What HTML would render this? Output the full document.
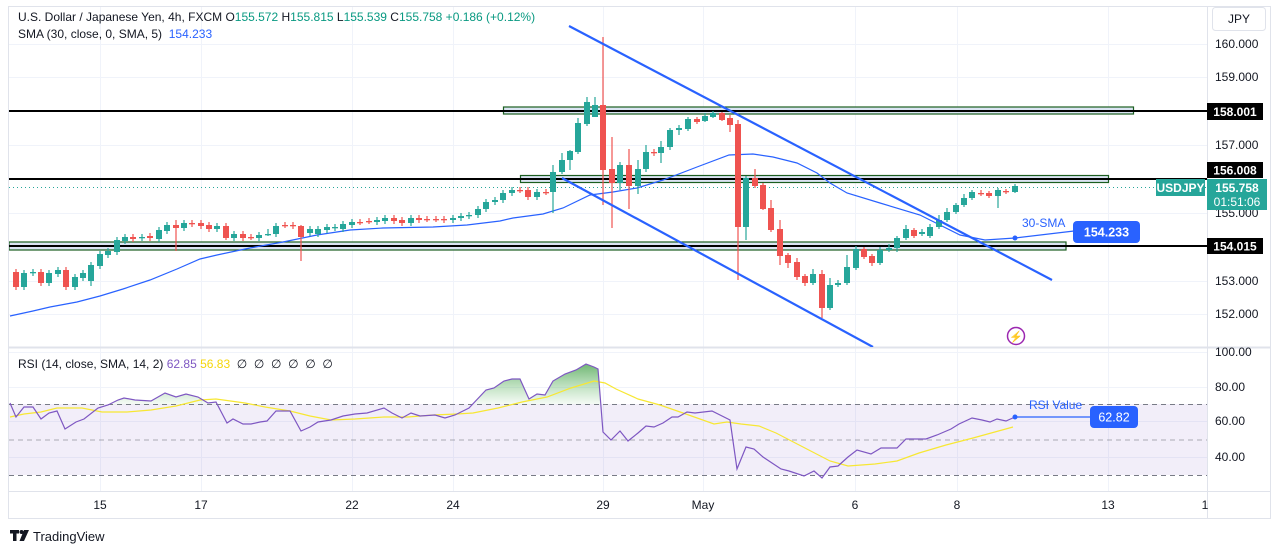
<!DOCTYPE html>
<html><head><meta charset="utf-8"><style>
html,body{margin:0;padding:0;background:#fff;width:1281px;height:554px;overflow:hidden}
svg{display:block;font-family:"Liberation Sans",sans-serif}
text{white-space:pre}
</style></head><body>
<svg id="s" width="1281" height="554" viewBox="0 0 1281 554" xmlns="http://www.w3.org/2000/svg">
<defs>
<linearGradient id="gf" gradientUnits="userSpaceOnUse" x1="0" y1="362" x2="0" y2="405"><stop offset="0" stop-color="#43a047" stop-opacity="0.8"/><stop offset="1" stop-color="#66bb6a" stop-opacity="0.05"/></linearGradient>
<clipPath id="above"><rect x="0" y="340" width="1207" height="64.5"/></clipPath>
<clipPath id="main"><rect x="9" y="7" width="1198" height="340"/></clipPath>
</defs>
<rect x="0" y="0" width="1281" height="554" fill="#fff"/>
<rect x="8.5" y="6.5" width="1262" height="512" fill="none" stroke="#e0e3eb"/>
<g id="grid" stroke="#f0f3fa" stroke-width="1"></g>
<rect x="9" y="404" width="1198" height="71" fill="#7e57c2" fill-opacity="0.1"/>
<g stroke="#787b86" stroke-dasharray="5,4" stroke-width="1">
<line x1="9" y1="404.5" x2="1207" y2="404.5"/><line x1="9" y1="440" x2="1207" y2="440" stroke-opacity="0.6"/><line x1="9" y1="475.5" x2="1207" y2="475.5"/>
</g>
<line x1="9" y1="347.5" x2="1270" y2="347.5" stroke="#e0e3eb" stroke-width="2"/>
<line x1="1207.5" y1="7" x2="1207.5" y2="518" stroke="#e0e3eb"/>
<line x1="9" y1="491.5" x2="1270" y2="491.5" stroke="#e0e3eb"/>
<g clip-path="url(#main)">
<rect x="503.5" y="107" width="630" height="7" fill="#dbe4f3" stroke="#1b5e20" stroke-width="1.2"/>
<rect x="520.5" y="175.5" width="588" height="7" fill="#dbe4f3" stroke="#1b5e20" stroke-width="1.2"/>
<rect x="9" y="242" width="1057" height="8" fill="#dbe4f3" stroke="#1b5e20" stroke-width="1.2"/>
<g stroke="#000" stroke-width="2"><line x1="9" y1="111" x2="1207" y2="111"/><line x1="9" y1="179" x2="1207" y2="179"/><line x1="9" y1="246" x2="1207" y2="246"/></g>
<line x1="9" y1="187.5" x2="1207" y2="187.5" stroke="#26a69a" stroke-dasharray="1,3"/>
<polyline fill="none" stroke="#2962ff" stroke-width="1.2" points="10,316 33,311 50,307 77,302 100,296 123,289 150,280 177,269 200,259 217,255 250,248 283,242 317,235 350,230 383,228 433,227 467,225 500,221 513,218 543,214 563,208 590,195 613,192 637,188 663,180 697,167 729,155 753,154 773,157 797,163 817,173 830,183 847,193 880,203 920,215 960,235 985,240 1015,238"/>
<g id="candles"></g>
<line x1="569" y1="26" x2="1052" y2="280" stroke="#2962ff" stroke-width="2.2"/>
<line x1="562" y1="178" x2="873" y2="347" stroke="#2962ff" stroke-width="2.2"/>
</g>
<circle cx="1015" cy="238" r="2.5" fill="#2962ff"/>
<line x1="1015" y1="238" x2="1074" y2="231" stroke="#2962ff" stroke-width="1.2"/>
<text x="1022" y="227" font-size="12" fill="#2962ff">30-SMA</text>
<rect x="1073" y="221" width="67" height="22" rx="4" fill="#2962ff"/>
<text x="1106.5" y="236.5" font-size="12.5" fill="#fff" text-anchor="middle" font-weight="bold">154.233</text>
<circle cx="1016" cy="336" r="8.5" fill="none" stroke="#9c27b0" stroke-width="1.5"/>
<text x="1016" y="340.5" font-size="11" fill="#9c27b0" text-anchor="middle">⚡</text>
<polygon id="rsifill" clip-path="url(#above)" fill="url(#gf)"/>
<polyline id="rsiy" fill="none" stroke="#f7e733" stroke-width="1.2"/>
<polyline id="rsi" fill="none" stroke="#7e57c2" stroke-width="1.2"/>
<circle cx="1015" cy="417" r="2.5" fill="#2962ff"/>
<line x1="1015" y1="417" x2="1090" y2="417" stroke="#2962ff" stroke-width="1.2"/>
<text x="1029" y="409" font-size="12" fill="#2962ff">RSI Value</text>
<rect x="1090" y="406" width="48" height="22" rx="4" fill="#2962ff"/>
<text x="1114" y="421.5" font-size="12.5" fill="#fff" text-anchor="middle">62.82</text>
<text x="18" y="21" font-size="12" fill="#131722">U.S. Dollar / Japanese Yen, 4h, FXCM O<tspan fill="#089981">155.572</tspan> H<tspan fill="#089981">155.815</tspan> L<tspan fill="#089981">155.539</tspan> C<tspan fill="#089981">155.758 +0.186 (+0.12%)</tspan></text>
<text x="18" y="38" font-size="12" fill="#131722">SMA (30, close, 0, SMA, 5)  <tspan fill="#2962ff">154.233</tspan></text>
<text x="18" y="368" font-size="12" fill="#131722">RSI (14, close, SMA, 14, 2) <tspan fill="#7e57c2">62.85</tspan> <tspan fill="#f5d60a">56.83</tspan>  ∅  ∅  ∅  ∅  ∅  ∅</text>
<g font-size="12" fill="#131722">
<text x="1215" y="48">160.000</text><text x="1215" y="81">159.000</text><text x="1215" y="149">157.000</text><text x="1215" y="217">155.000</text><text x="1215" y="285">153.000</text><text x="1215" y="318">152.000</text>
<text x="1215" y="356">100.00</text><text x="1215" y="391">80.00</text><text x="1215" y="425">60.00</text><text x="1215" y="461">40.00</text>
</g>
<rect x="1212.5" y="7.5" width="53" height="23" rx="3" fill="#fff" stroke="#e0e3eb"/>
<text x="1239" y="23" font-size="12" fill="#131722" text-anchor="middle">JPY</text>
<rect x="1207" y="103" width="56" height="17" fill="#000"/><text x="1235" y="116" font-size="12" fill="#fff" text-anchor="middle" font-weight="bold">158.001</text>
<rect x="1207" y="162" width="56" height="16" fill="#000"/><text x="1235" y="174.5" font-size="12" fill="#fff" text-anchor="middle" font-weight="bold">156.008</text>
<rect x="1207" y="238" width="56" height="16" fill="#000"/><text x="1235" y="250.5" font-size="12" fill="#fff" text-anchor="middle" font-weight="bold">154.015</text>
<rect x="1156" y="179" width="49" height="17" fill="#26a69a"/><text x="1180.5" y="192" font-size="12" fill="#fff" text-anchor="middle" font-weight="bold">USDJPY</text>
<rect x="1207" y="179" width="60" height="31" fill="#26a69a"/>
<text x="1237" y="192" font-size="12" fill="#fff" text-anchor="middle" font-weight="bold">155.758</text>
<text x="1237" y="206" font-size="12" fill="#fff" text-anchor="middle">01:51:06</text>
<g font-size="12" fill="#131722" text-anchor="middle">
<text x="100" y="509">15</text><text x="201" y="509">17</text><text x="352" y="509">22</text><text x="453" y="509">24</text><text x="603" y="509">29</text><text x="703" y="509">May</text><text x="855" y="509">6</text><text x="957" y="509">8</text><text x="1108" y="509">13</text><text x="1205" y="509">1</text>
</g>
<g fill="#131722"><rect x="10" y="530" width="9" height="3.5"/><rect x="13" y="530" width="3.5" height="11"/><circle cx="21.5" cy="532" r="2"/><polygon points="24,530 29,530 24,541 19.5,541"/></g>
<text x="33" y="541" font-size="13" fill="#131722">TradingView</text>
</svg>
<script>
var NS="http://www.w3.org/2000/svg";
function el(t,a,p){var e=document.createElementNS(NS,t);for(var k in a)e.setAttribute(k,a[k]);p.appendChild(e);return e;}
var g=document.getElementById("grid");
[100,201,352,453,603,703,855,957,1108].forEach(function(x){el("line",{x1:x+.5,y1:7,x2:x+.5,y2:491},g);});
[44,77,145,213,281,314,352,387,421,457].forEach(function(y){el("line",{x1:9,y1:y+.5,x2:1207,y2:y+.5},g);});
var C=[[16,272,287],[24,287,273],[33,273,272],[41,272,283],[49,283,273],[58,274,270],[66,270,287],[75,287,277],[83,278,273],[91,281,265,262,286],[100,266,254],[108,255,251],[117,252,240],[125,241,237],[133,237,239],[142,238,237],[150,236,238],[159,239,230],[167,231,225],[176,225,228,220,251],[184,228,223],[192,223,224],[201,223,226],[209,225,229],[217,229,226],[226,226,238,223,240],[234,238,234],[243,234,238],[251,237,237],[259,238,235],[268,235,234,229,236],[276,234,226],[285,225,225],[293,225,226],[301,226,237,225,261],[310,233,229],[318,234,229],[327,230,227],[335,228,227],[343,229,224],[352,225,222],[360,222,222],[369,221,221],[377,222,220],[385,221,218],[394,218,221],[402,220,223],[411,223,218],[419,218,220],[427,219,219],[436,219,219],[444,219,220],[453,220,218],[461,218,216],[469,216,215],[478,215,209],[486,209,202],[495,202,200],[503,200,193],[512,193,190],[520,190,190],[528,190,197],[537,197,192],[546,192,192],[553,192,172,165,213],[562,172,160,153,174],[570,160,151,150,170],[578,152,123,118,154],[587,124,102,97,126],[595,117,105,97,117],[603,105,170,37,205],[612,169,183,137,228],[620,183,165,162,190],[629,165,186,149,209],[638,186,169,160,194],[646,169,152,145,172],[654,152,153,149,156],[661,153,147,141,163],[670,147,130,128,150],[679,130,128,125,135],[688,129,119,117,131],[697,119,122,117,124],[705,121,116,113,122],[713,117,113,111,118],[722,113,120,112,121],[730,118,125,115,132],[738,124,227,120,280],[746,227,178,176,240],[755,178,186,169,188],[763,185,209,183,210],[771,208,230,200,232],[780,229,256,220,265],[788,255,263,253,268],[797,262,277,258,280],[805,276,283,274,286],[813,283,274,269,285],[822,274,308,270,318],[830,308,285,278,310],[838,285,283,280,287],[847,283,267,255,285],[856,268,249,246,270],[864,249,257,247,259],[872,256,263,254,266],[880,263,250,247,265],[889,250,248,244,252],[897,248,238,236,252],[906,238,229,225,240],[914,230,236,228,238],[922,234,232,229,236],[930,236,227,224,238],[939,227,220,215,229],[947,220,212,208,222],[956,212,205,203,214],[964,205,198,194,207],[972,198,192,190,200],[981,193,193,190,196],[989,193,196,191,198],[998,196,190,188,208],[1006,191,191,189,194],[1015,192,186,184,193]];
var cg=document.getElementById("candles");
C.forEach(function(c){var x=c[0],o=c[1],cl=c[2];var up=cl<o;var col=up?"#26a69a":"#ef5350";
var t=Math.min(o,cl),b=Math.max(o,cl);var wt=c.length>3?c[3]:t-3,wb=c.length>3?c[4]:b+3;
el("line",{x1:x,y1:wt,x2:x,y2:wb,stroke:col,"stroke-width":1.2},cg);
el("rect",{x:x-3,y:t,width:6,height:Math.max(b-t,1.3),fill:col},cg);});
var R="10,403 16,417 24,407 33,407 41,419 49,413 57,411 65,429 76,422 84,419 98,408 108,405 118,400 124,398 135,400 151,401 165,393 176,397 186,394 198,397 208,403 216,402 227,423 233,419 243,424 251,424 260,422 267,421 276,411 290,411 301,431 310,427 318,422 331,420 343,416 355,414 367,413 384,408 392,413 402,418 411,413 420,416 435,415 445,418 455,415 469,408 486,390 494,388 504,381 512,379 520,379 529,399 537,394 545,395 553,381 565,374 576,370 586,364 594,367 598,369 603,432 611,440 620,431 628,441 638,433 646,426 654,427 663,423 672,417 678,417 687,412 695,413 712,411 730,420 737,469 746,447 754,449 763,457 772,463 781,469 789,471 804,476 814,471 822,478 830,467 838,466 848,457 857,450 871,454 881,448 897,448 906,439 915,439 926,439 937,435 951,429 959,424 972,418 982,420 990,422 997,419 1006,421 1015,417";
var Y="10,417 24,414 41,412 57,408 82,408 102,412 127,412 151,410 176,406 200,400 216,399 245,403 265,407 290,411 310,416 331,420 355,419 384,417 408,417 433,415 457,414 473,413 498,408 522,402 547,397 571,388 594,381 605,383 616,389 638,399 660,405 683,413 714,424 727,422 741,424 759,426 776,433 803,447 830,461 848,466 875,464 897,461 919,453 946,445 973,438 1013,427";
document.getElementById("rsi").setAttribute("points",R);
document.getElementById("rsiy").setAttribute("points",Y);
document.getElementById("rsifill").setAttribute("points","10,405 "+R+" 1015,405");
</script>
</body></html>
